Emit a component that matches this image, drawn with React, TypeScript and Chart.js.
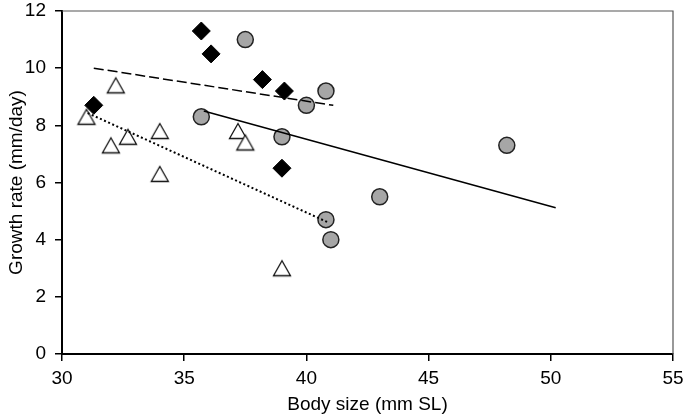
import React, { useEffect, useRef } from "react";
import { Chart, registerables } from "chart.js";

Chart.register(...registerables);

const diamondX = [31.3, 35.7, 36.1, 38.2, 39.1, 39.0];
const diamondY = [8.7, 11.3, 10.5, 9.6, 9.2, 6.5];

const circleX = [35.7, 37.5, 39.0, 40.0, 40.8, 40.8, 41.0, 43.0, 48.2];
const circleY = [8.3, 11.0, 7.6, 8.7, 9.2, 4.7, 4.0, 5.5, 7.3];

const triangleX = [31.0, 32.0, 32.2, 32.7, 34.0, 34.0, 37.2, 37.5, 39.0];
const triangleY = [8.3, 7.3, 9.4, 7.6, 7.8, 6.3, 7.8, 7.4, 3.0];

const dashedLineX = [31.3, 41.1];
const dashedLineY = [10.0, 8.7];
const solidLineX = [35.8, 50.2];
const solidLineY = [8.5, 5.12];
const dottedLineX = [31.05, 40.9];
const dottedLineY = [8.43, 4.6];

const xTicks = [30, 35, 40, 45, 50, 55];
const yTicks = [0, 2, 4, 6, 8, 10, 12];

const xTitle = "Body size (mm SL)";
const yTitle = "Growth rate (mm/day)";

const pts = (xs: number[], ys: number[]) => xs.map((x, i) => ({ x, y: ys[i] }));

function makeTriangle(): HTMLCanvasElement {
  const c = document.createElement("canvas");
  c.width = 22;
  c.height = 20;
  const ctx = c.getContext("2d")!;
  const w = 17;
  const h = 15;
  const cx = 11;
  const cy = 10;
  ctx.beginPath();
  ctx.moveTo(cx, cy - h / 2);
  ctx.lineTo(cx + w / 2, cy + h / 2);
  ctx.lineTo(cx - w / 2, cy + h / 2);
  ctx.closePath();
  ctx.fillStyle = "#ffffff";
  ctx.fill();
  ctx.lineWidth = 1.3;
  ctx.strokeStyle = "#111111";
  ctx.stroke();
  return c;
}

const frame = {
  id: "frame",
  afterDatasetsDraw(chart: any) {
    const { ctx, chartArea } = chart;
    ctx.save();
    ctx.strokeStyle = "#555555";
    ctx.lineWidth = 1.2;
    ctx.beginPath();
    ctx.moveTo(chartArea.left, chartArea.top);
    ctx.lineTo(chartArea.right, chartArea.top);
    ctx.lineTo(chartArea.right, chartArea.bottom);
    ctx.stroke();
    ctx.restore();
  },
};

export default function App() {
  const ref = useRef<HTMLCanvasElement>(null);
  useEffect(() => {
    document.body.style.margin = "0";
    const tri = makeTriangle();
    const font = { family: "Liberation Sans, Arial, sans-serif", size: 19 };
    const chart = new Chart(ref.current!, {
      type: "scatter",
      data: {
        datasets: [
          {
            label: "diamonds",
            data: pts(diamondX, diamondY),
            pointStyle: "rectRot",
            pointRadius: 9,
            backgroundColor: "#000000",
            borderColor: "#000000",
            borderWidth: 1,
          },
          {
            label: "dashed",
            data: pts(dashedLineX, dashedLineY),
            showLine: true,
            pointRadius: 0,
            borderColor: "#000000",
            borderWidth: 1.5,
            borderDash: [10, 4],
          },
          {
            label: "dotted",
            data: pts(dottedLineX, dottedLineY),
            showLine: true,
            pointRadius: 0,
            borderColor: "#000000",
            borderWidth: 2,
            borderDash: [2, 2.5],
          },
          {
            label: "solid",
            data: pts(solidLineX, solidLineY),
            showLine: true,
            pointRadius: 0,
            borderColor: "#000000",
            borderWidth: 1.5,
          },
          {
            label: "triangles",
            data: pts(triangleX, triangleY),
            pointStyle: tri,
            pointRadius: 10,
            backgroundColor: "#ffffff",
            borderColor: "#000000",
          },
          {
            label: "circles",
            data: pts(circleX, circleY),
            pointStyle: "circle",
            pointRadius: 8,
            backgroundColor: "#a6a6a6",
            borderColor: "#222222",
            borderWidth: 1.5,
          },
        ],
      },
      options: {
        animation: false,
        responsive: false,
        events: [],
        layout: { padding: { top: 9, right: 12, left: 0, bottom: 0 } },
        plugins: { legend: { display: false }, tooltip: { enabled: false } },
        scales: {
          x: {
            type: "linear",
            min: 30,
            max: 55,
            afterBuildTicks: (s: any) => {
              s.ticks = xTicks.map((v) => ({ value: v }));
            },
            afterFit: (s: any) => {
              s.height = 62;
              s.paddingLeft = 0;
              s.paddingRight = 0;
            },
            ticks: { color: "#000", font, padding: 6 },
            grid: {
              drawOnChartArea: false,
              drawTicks: true,
              tickLength: 7,
              color: "#000",
              lineWidth: 1.5,
            },
            border: { color: "#000", width: 2 },
            title: {
              display: true,
              text: xTitle,
              color: "#000",
              font,
              padding: { top: 2, bottom: 0 },
            },
          },
          y: {
            type: "linear",
            min: 0,
            max: 12,
            afterBuildTicks: (s: any) => {
              s.ticks = yTicks.map((v) => ({ value: v }));
            },
            afterFit: (s: any) => {
              s.width = 62;
              s.paddingTop = 0;
              s.paddingBottom = 0;
            },
            ticks: { color: "#000", font, padding: 9 },
            grid: {
              drawOnChartArea: false,
              drawTicks: true,
              tickLength: 7,
              color: "#000",
              lineWidth: 1.5,
            },
            border: { color: "#000", width: 2 },
            title: {
              display: true,
              text: yTitle,
              color: "#000",
              font,
              padding: { top: 5, bottom: 0 },
            },
          },
        },
      },
      plugins: [frame],
    } as any);
    return () => chart.destroy();
  }, []);
  return (
    <div style={{ width: 685, height: 416 }}>
      <canvas ref={ref} width={685} height={416} />
    </div>
  );
}
